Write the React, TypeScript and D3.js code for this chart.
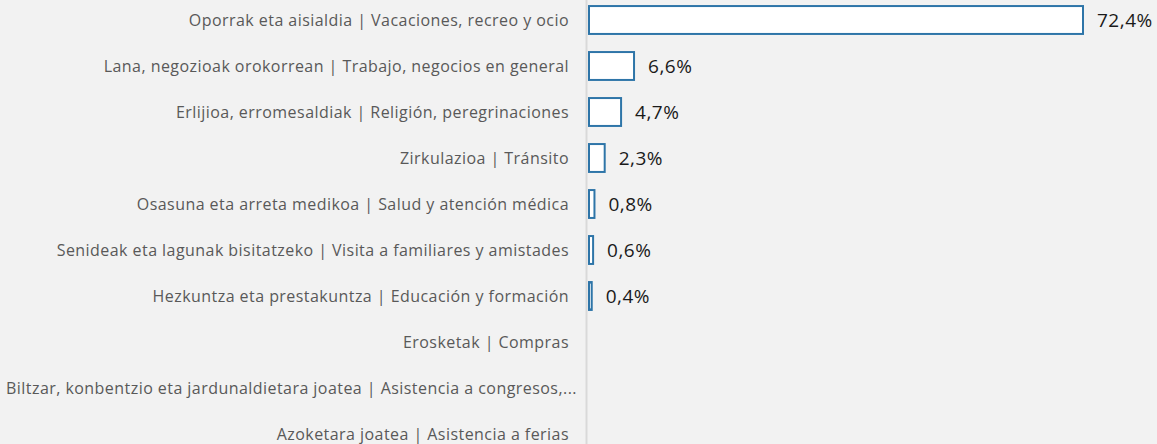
import React from "react";
import * as d3 from "d3";

const categories = [
  "Oporrak eta aisialdia | Vacaciones, recreo y ocio",
  "Lana, negozioak orokorrean | Trabajo, negocios en general",
  "Erlijioa, erromesaldiak | Religión, peregrinaciones",
  "Zirkulazioa | Tránsito",
  "Osasuna eta arreta medikoa | Salud y atención médica",
  "Senideak eta lagunak bisitatzeko | Visita a familiares y amistades",
  "Hezkuntza eta prestakuntza | Educación y formación",
  "Erosketak | Compras",
  "Biltzar, konbentzio eta jardunaldietara joatea | Asistencia a congresos,...",
  "Azoketara joatea | Asistencia a ferias",
];
const values: (number | null)[] = [72.4, 6.6, 4.7, 2.3, 0.8, 0.6, 0.4, null, null, null];

const W = 1157;
const H = 444;

export default function App() {
  const x = d3.scaleLinear().domain([0, 72.4]).range([588, 1082]);
  const y = d3
    .scaleBand<string>()
    .domain(categories)
    .range([-3, 457])
    .paddingInner(0.35)
    .paddingOuter(0.175);
  const fmt = (v: number) => d3.format(".1f")(v).replace(".", ",") + "%";

  return (
    <div style={{ position: "fixed", left: 0, top: 0, width: W, height: H, background: "#f2f2f2" }}>
      <svg width={W} height={H} style={{ display: "block" }}>
        <rect x={0} y={0} width={W} height={H} fill="#f2f2f2" />
        {categories.map((c) => {
          const cy = (y(c) as number) + y.bandwidth() / 2;
          const truncated = c.endsWith("...");
          return (
            <text
              key={c}
              x={truncated ? 577 : 569}
              y={cy}
              textAnchor="end"
              dominantBaseline="central"
              fontFamily="'Open Sans', sans-serif"
              fontSize={16}
              letterSpacing={0.45}
              fill="#595959"
            >
              {c}
            </text>
          );
        })}
        <line x1={586.5} x2={586.5} y1={0} y2={H} stroke="#d9d9d9" strokeWidth={2} />
        {categories.map((c, i) => {
          const v = values[i];
          if (v == null) return null;
          const top = y(c) as number;
          const w = x(v) - x(0);
          return (
            <g key={c}>
              <rect
                x={x(0) + 1}
                y={top + 1}
                width={Math.max(w, 0.5)}
                height={y.bandwidth() - 2}
                fill="#ffffff"
                stroke="#2e75a8"
                strokeWidth={2}
              />
              <text
                x={x(v) + 15}
                y={top + y.bandwidth() / 2}
                dominantBaseline="central"
                fontFamily="'Open Sans', sans-serif"
                fontSize={19}
                letterSpacing={0.5}
                fill="#1a1a1a"
              >
                {fmt(v)}
              </text>
            </g>
          );
        })}
      </svg>
    </div>
  );
}
